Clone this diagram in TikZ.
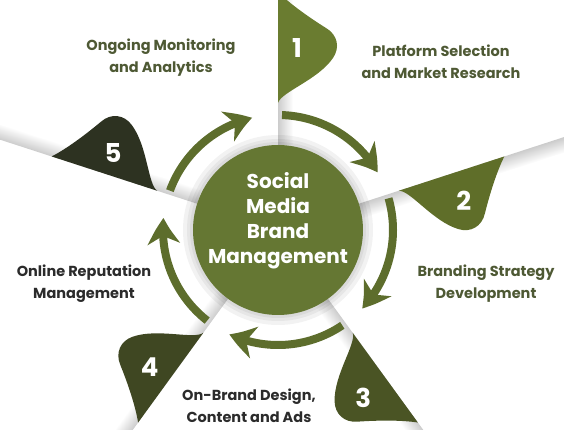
\documentclass[tikz,border=0pt]{standalone}
\usepackage{fontspec}
\setmainfont{Poppins}
\usetikzlibrary{arrows.meta,bending}
\definecolor{petalA}{HTML}{6A7C30}
\definecolor{petalB}{HTML}{5F6E29}
\definecolor{petalC}{HTML}{4A5424}
\definecolor{petalD}{HTML}{3F4722}
\definecolor{petalE}{HTML}{2D3221}
\definecolor{coregreen}{HTML}{657733}
\definecolor{ringgreen}{HTML}{5D6D2C}
\definecolor{txtgreen}{HTML}{4E5934}
\definecolor{txtdark}{HTML}{2B2B2B}

\begin{document}
\begin{tikzpicture}[x=1pt,y=1pt,
  foldband/.style={top color=black!20, bottom color=white, draw=none},
  ringarrow/.style={draw=ringgreen, line width=8pt, -{Stealth[length=26pt,width=32pt,inset=8pt,bend]}},
  numlabel/.style={text=white, font=\bfseries\fontsize{26}{26}\selectfont},
  steplabel/.style={align=center, font=\bfseries\fontsize{14.5}{22}\selectfont},
  hubnode/.style={circle, fill=coregreen, minimum size=170pt, inner sep=0pt}]

\useasboundingbox (-278,-200) rectangle (286,230);

% paper folds
\shade[foldband, transform canvas={rotate=90}] (85,0) rectangle (330,-15);
\shade[foldband, transform canvas={rotate=18}] (85,0) rectangle (330,-15);
\shade[foldband, transform canvas={rotate=-54}] (85,0) rectangle (330,-15);
\shade[foldband, transform canvas={rotate=-126}] (85,0) rectangle (330,-15);
\shade[foldband, transform canvas={rotate=162}] (85,0) rectangle (330,-15);

% petals
\fill[petalA, rotate=90] (127,0) .. controls (138,-3) and (150,-40) .. (172,-55) .. controls (182,-62) and (195,-60) .. (202,-48) .. controls (212,-32) and (226,-12) .. (238,0) -- cycle;
\fill[petalB, rotate=18] (127,0) .. controls (138,-3) and (150,-40) .. (172,-55) .. controls (182,-62) and (195,-60) .. (202,-48) .. controls (212,-32) and (226,-12) .. (238,0) -- cycle;
\fill[petalC, rotate=-54] (127,0) .. controls (138,-3) and (150,-40) .. (172,-55) .. controls (182,-62) and (195,-60) .. (202,-48) .. controls (212,-32) and (226,-12) .. (238,0) -- cycle;
\fill[petalD, rotate=-126] (127,0) .. controls (138,-3) and (150,-40) .. (172,-55) .. controls (182,-62) and (195,-60) .. (202,-48) .. controls (212,-32) and (226,-12) .. (238,0) -- cycle;
\fill[petalE, rotate=162] (127,0) .. controls (138,-3) and (150,-40) .. (172,-55) .. controls (182,-62) and (195,-60) .. (202,-48) .. controls (212,-32) and (226,-12) .. (238,0) -- cycle;

\node[numlabel] (num1) at (84:183) {1};
\node[numlabel] (num2) at (9:188) {2};
\node[numlabel] (num3) at (-63:188) {3};
\node[numlabel] (num4) at (-133:188) {4};
\node[numlabel] (num5) at (155:182) {5};

% hub with soft shadow
\fill[black, opacity=0.05] (0,0) circle (95);
\fill[black, opacity=0.05] (0,0) circle (91);
\fill[black, opacity=0.05] (0,0) circle (88);
\node[hubnode] (hub) at (0,0) {};
\node[text=white, align=center, font=\bfseries\fontsize{20}{25}\selectfont] (hublabel) at ([yshift=9pt]hub.center) {Social\\Media\\Brand\\Management};

% cycle arrows
\coordinate (arc1) at (88:115);
\coordinate (arc2) at (16:115);
\coordinate (arc3) at (-56:115);
\coordinate (arc4) at (-128:115);
\coordinate (arc5) at (160:115);
\draw[ringarrow] (arc1) arc[start angle=88, end angle=30, radius=115];
\draw[ringarrow] (arc2) arc[start angle=16, end angle=-43, radius=115];
\draw[ringarrow] (arc3) arc[start angle=-56, end angle=-115, radius=115];
\draw[ringarrow] (arc4) arc[start angle=-128, end angle=-186, radius=115];
\draw[ringarrow] (arc5) arc[start angle=160, end angle=103, radius=115];

% step texts
\node[steplabel, text=txtgreen] (platform) at (163,168) {Platform Selection\\and Market Research};
\node[steplabel, text=txtgreen] (branding) at (208,-54) {Branding Strategy\\Development};
\node[steplabel, text=txtdark] (design) at (-29,-176) {On-Brand Design,\\Content and Ads};
\node[steplabel, text=txtdark] (reputation) at (-194,-54) {Online Reputation\\Management};
\node[steplabel, text=txtgreen] (monitoring) at (-117,172) {Ongoing Monitoring\\and Analytics};

\end{tikzpicture}
\end{document}
